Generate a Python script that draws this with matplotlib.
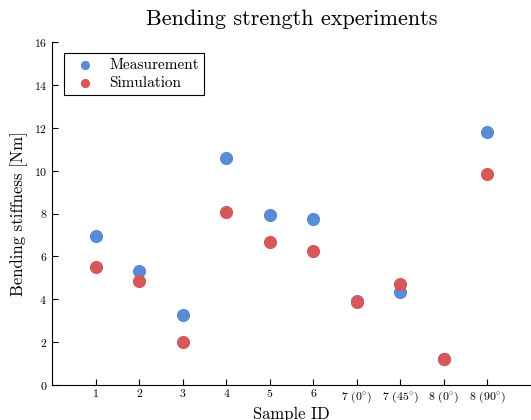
import numpy as np
import matplotlib
matplotlib.use("Agg")
import matplotlib.pyplot as plt

plt.rcParams['font.family'] = 'cmr10'
plt.rcParams['mathtext.fontset'] = 'cm'
plt.rcParams['axes.formatter.use_mathtext'] = True

# data
sample_ids = ["1", "2", "3", "4", "5", "6",
              r"7 (0$^{\circ}$)", r"7 (45$^{\circ}$)", r"8 (0$^{\circ}$)", r"8 (90$^{\circ}$)"]
measurement = [6.95, 5.3, 3.25, 10.6, 7.95, 7.75, 3.9, 4.35, 1.2, 11.8]
simulation = [5.5, 4.85, 2.0, 8.05, 6.65, 6.25, 3.85, 4.7, 1.2, 9.85]

blue = '#5b8bd6'
red = '#d65858'

x = np.arange(1, len(sample_ids) + 1)

fig = plt.figure(figsize=(5.31, 4.2), dpi=100)
ax = fig.add_axes([52 / 531, 35 / 420, 479 / 531, 343 / 420])

ax.scatter(x, measurement, s=90, color=blue, label='Measurement', zorder=3, linewidths=0)
ax.scatter(x, simulation, s=90, color=red, label='Simulation', zorder=4, linewidths=0)

ax.set_xlim(0, 11)
ax.set_ylim(0, 16)
ax.set_xticks(x)
ax.set_xticklabels(sample_ids)
ax.set_yticks(np.arange(0, 17, 2))
ax.tick_params(direction='in', labelsize=8.5, length=4, width=0.8)
ax.spines['top'].set_visible(False)
ax.spines['right'].set_visible(False)

ax.set_xlabel('Sample ID', fontsize=12, labelpad=1)
ax.set_ylabel('Bending stiffness [Nm]', fontsize=12)
ax.set_title('Bending strength experiments', fontsize=16, pad=12)

leg = ax.legend(loc='upper left', bbox_to_anchor=(0.025, 0.967), borderaxespad=0,
                fontsize=11, markerscale=0.7,
                fancybox=False, edgecolor='black', framealpha=1,
                handletextpad=0.6, borderpad=0.35, labelspacing=0.25)
leg.get_frame().set_linewidth(0.8)

plt.savefig('out.png', dpi=100)
